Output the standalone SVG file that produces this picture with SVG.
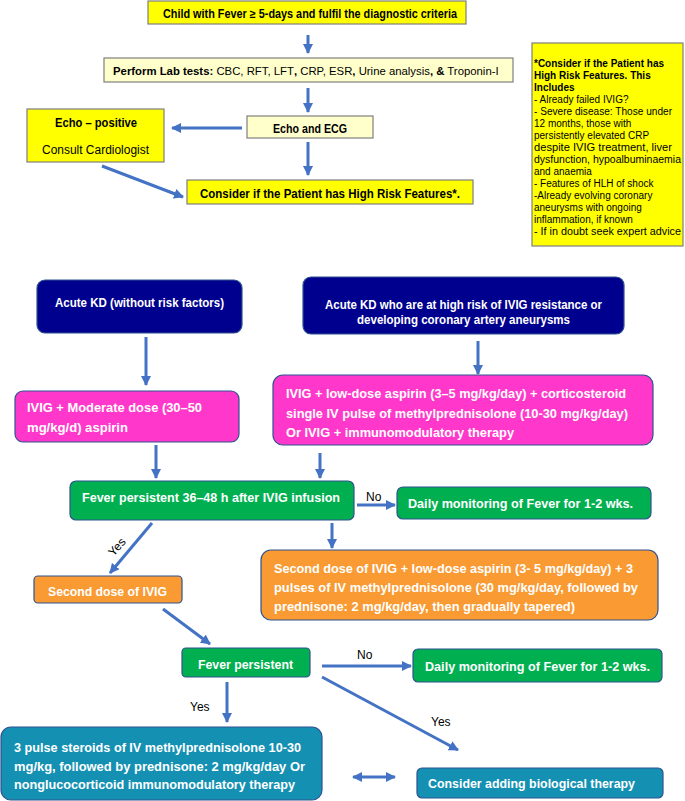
<svg xmlns="http://www.w3.org/2000/svg" width="685" height="801" viewBox="0 0 685 801">
<defs>
<style>
text{font-family:"Liberation Sans",Arial,sans-serif;font-size:12px;fill:#000}
.b{font-weight:bold}
.w{fill:#fff;font-weight:bold}
.lbl{font-size:12px}
.note{font-size:10px}
.lab{font-size:11.35px}
.yel{fill:#ffff00;stroke:#7f7f7f;stroke-width:1.2}
.ly{fill:#ffffcc;stroke:#7f7f7f;stroke-width:1.2}
.navy{fill:#00008f;stroke:#2f528f;stroke-width:1.2}
.pink{fill:#ff38cb;stroke:#2f528f;stroke-width:1.2}
.green{fill:#00b050;stroke:#2f528f;stroke-width:1.2}
.orange{fill:#f99a33;stroke:#2f528f;stroke-width:1.2}
.teal{fill:#1490b3;stroke:#2f528f;stroke-width:1.2}
.con{stroke:#4472c4;stroke-width:3;fill:none;marker-end:url(#ah)}
</style>
<marker id="ah" viewBox="0 0 10 10" refX="9" refY="5" markerWidth="10" markerHeight="10" markerUnits="userSpaceOnUse" orient="auto-start-reverse">
<path d="M0,0 L10,5 L0,10 z" fill="#4472c4"/>
</marker>
</defs>
<rect width="685" height="801" fill="#fff"/>

<g id="connectors">
<line class="con" x1="308" y1="35" x2="308" y2="53"/>
<line class="con" x1="308" y1="88" x2="308" y2="112"/>
<line class="con" x1="242" y1="128" x2="172" y2="128"/>
<line class="con" x1="308" y1="142" x2="308" y2="175"/>
<line class="con" x1="102" y1="166" x2="183" y2="197"/>
<line class="con" x1="146" y1="337" x2="146" y2="385"/>
<line class="con" x1="478" y1="341" x2="478" y2="374"/>
<line class="con" x1="156" y1="445" x2="156" y2="478"/>
<line class="con" x1="320" y1="453" x2="320" y2="478"/>
<line class="con" x1="357" y1="505" x2="395" y2="505"/>
<text class="lbl" x="366" y="501">No</text>
<line class="con" x1="152" y1="523" x2="110" y2="573"/>
<text class="lbl" x="117" y="551" text-anchor="middle" transform="rotate(-48 117 547)">Yes</text>
<line class="con" x1="332" y1="523" x2="332" y2="548"/>
<line class="con" x1="163" y1="609" x2="210" y2="644"/>
<line class="con" x1="322" y1="666" x2="411" y2="666"/>
<text class="lbl" x="357" y="659">No</text>
<line class="con" x1="227" y1="682" x2="227" y2="722"/>
<text class="lbl" x="190" y="711">Yes</text>
<line class="con" x1="322" y1="677" x2="458" y2="750"/>
<text class="lbl" x="431" y="726">Yes</text>
<line class="con" x1="353" y1="777" x2="395" y2="777" style="marker-start:url(#ah)"/>
</g>

<g id="n-start">
<rect class="yel" x="148" y="1" width="318" height="23"/>
<text class="b" x="163" y="18" textLength="294" lengthAdjust="spacingAndGlyphs">Child with Fever ≥ 5-days and fulfil the diagnostic criteria</text>
</g>
<g id="n-lab">
<rect class="ly" x="104" y="58" width="409" height="24"/>
<text class="lab" x="113" y="75"><tspan class="b">Perform Lab tests:</tspan> CBC, RFT, LFT<tspan class="b">,</tspan> CRP, ESR<tspan class="b">,</tspan> Urine analysis<tspan class="b">, &amp;</tspan> Troponin-I</text>
</g>
<g id="n-echo">
<rect class="ly" x="247" y="116" width="126" height="22"/>
<text class="b" x="273" y="133" textLength="74" lengthAdjust="spacingAndGlyphs">Echo and ECG</text>
</g>
<g id="n-echopos">
<rect class="yel" x="27" y="109" width="137" height="53"/>
<text class="b" x="55" y="127" textLength="82" lengthAdjust="spacingAndGlyphs">Echo – positive</text>
<text x="42" y="154" textLength="107" lengthAdjust="spacingAndGlyphs">Consult Cardiologist</text>
</g>
<g id="n-consider">
<rect class="yel" x="187" y="180" width="286" height="24"/>
<text class="b" x="200" y="198" textLength="260" lengthAdjust="spacingAndGlyphs">Consider if the Patient has High Risk Features*.</text>
</g>
<g id="n-note">
<rect class="yel" x="532" y="43" width="151" height="203"/>
<text class="note b" x="534" y="67">*Consider if the Patient has</text>
<text class="note b" x="534" y="79">High Risk Features. This</text>
<text class="note b" x="534" y="91">Includes</text>
<text class="note" x="534" y="103">- Already failed IVIG?</text>
<text class="note" x="534" y="115" textLength="138" lengthAdjust="spacingAndGlyphs">- Severe disease: Those under</text>
<text class="note" x="534" y="127">12 months, those with</text>
<text class="note" x="534" y="139">persistently elevated CRP</text>
<text class="note" x="534" y="151" textLength="138" lengthAdjust="spacingAndGlyphs">despite IVIG treatment, liver</text>
<text class="note" x="534" y="163" textLength="147" lengthAdjust="spacingAndGlyphs">dysfunction, hypoalbuminaemia</text>
<text class="note" x="534" y="175">and anaemia</text>
<text class="note" x="534" y="187">- Features of HLH of shock</text>
<text class="note" x="534" y="199">-Already evolving coronary</text>
<text class="note" x="534" y="211">aneurysms with ongoing</text>
<text class="note" x="534" y="223">inflammation, if known</text>
<text class="note" x="534" y="235" textLength="147" lengthAdjust="spacingAndGlyphs">- If in doubt seek expert advice</text>
</g>

<g id="n-kd-low">
<rect class="navy" x="37" y="280" width="205" height="53" rx="8"/>
<text class="w" x="55" y="307" textLength="169" lengthAdjust="spacingAndGlyphs">Acute KD (without risk factors)</text>
</g>
<g id="n-kd-high">
<rect class="navy" x="303" y="277" width="321" height="57" rx="8"/>
<text class="w" x="325" y="309" textLength="277" lengthAdjust="spacingAndGlyphs">Acute KD who are at high risk of IVIG resistance or</text>
<text class="w" x="357" y="324" textLength="213" lengthAdjust="spacingAndGlyphs">developing coronary artery aneurysms</text>
</g>
<g id="n-ivig-mod">
<rect class="pink" x="15" y="391" width="224" height="51" rx="8"/>
<text class="w" x="27" y="412" textLength="175" lengthAdjust="spacingAndGlyphs">IVIG + Moderate dose (30–50</text>
<text class="w" x="27" y="432" textLength="101" lengthAdjust="spacingAndGlyphs">mg/kg/d) aspirin</text>
</g>
<g id="n-ivig-low">
<rect class="pink" x="273" y="375" width="380" height="70" rx="10"/>
<text class="w" x="286" y="398" textLength="340" lengthAdjust="spacingAndGlyphs">IVIG + low-dose aspirin (3–5 mg/kg/day) + corticosteroid</text>
<text class="w" x="286" y="418" textLength="342" lengthAdjust="spacingAndGlyphs">single IV pulse of methylprednisolone (10-30 mg/kg/day)</text>
<text class="w" x="286" y="437" textLength="228" lengthAdjust="spacingAndGlyphs">Or IVIG + immunomodulatory therapy</text>
</g>
<g id="n-fever1">
<rect class="green" x="70" y="481" width="284" height="39" rx="6"/>
<text class="w" x="82" y="502" textLength="258" lengthAdjust="spacingAndGlyphs">Fever persistent 36–48 h after IVIG infusion</text>
</g>
<g id="n-daily1">
<rect class="green" x="397" y="487" width="254" height="32" rx="6"/>
<text class="w" x="408" y="508" textLength="225" lengthAdjust="spacingAndGlyphs">Daily monitoring of Fever for 1-2 wks.</text>
</g>
<g id="n-second-combo">
<rect class="orange" x="261" y="550" width="397" height="70" rx="10"/>
<text class="w" x="274" y="573" textLength="359" lengthAdjust="spacingAndGlyphs">Second dose of IVIG + low-dose aspirin (3- 5 mg/kg/day) + 3</text>
<text class="w" x="274" y="592" textLength="364" lengthAdjust="spacingAndGlyphs">pulses of IV methylprednisolone (30 mg/kg/day, followed by</text>
<text class="w" x="274" y="611" textLength="301" lengthAdjust="spacingAndGlyphs">prednisone: 2 mg/kg/day, then gradually tapered)</text>
</g>
<g id="n-second">
<rect class="orange" x="34" y="576" width="148" height="27" rx="4"/>
<text class="w" x="48" y="596" textLength="119" lengthAdjust="spacingAndGlyphs">Second dose of IVIG</text>
</g>
<g id="n-fever2">
<rect class="green" x="182" y="648" width="128" height="29" rx="4"/>
<text class="w" x="198" y="669" textLength="95" lengthAdjust="spacingAndGlyphs">Fever persistent</text>
</g>
<g id="n-daily2">
<rect class="green" x="413" y="649" width="249" height="33" rx="5"/>
<text class="w" x="425" y="671" textLength="225" lengthAdjust="spacingAndGlyphs">Daily monitoring of Fever for 1-2 wks.</text>
</g>
<g id="n-pulse">
<rect class="teal" x="1" y="727" width="321" height="73" rx="10"/>
<text class="w" x="14" y="752" textLength="287" lengthAdjust="spacingAndGlyphs">3 pulse steroids of IV methylprednisolone 10-30</text>
<text class="w" x="14" y="771" textLength="291" lengthAdjust="spacingAndGlyphs">mg/kg, followed by prednisone: 2 mg/kg/day Or</text>
<text class="w" x="14" y="789" textLength="281" lengthAdjust="spacingAndGlyphs">nonglucocorticoid immunomodulatory therapy</text>
</g>
<g id="n-bio">
<rect class="teal" x="417" y="768" width="246" height="30" rx="5"/>
<text class="w" x="428" y="788" textLength="207" lengthAdjust="spacingAndGlyphs">Consider adding biological therapy</text>
</g>
</svg>
